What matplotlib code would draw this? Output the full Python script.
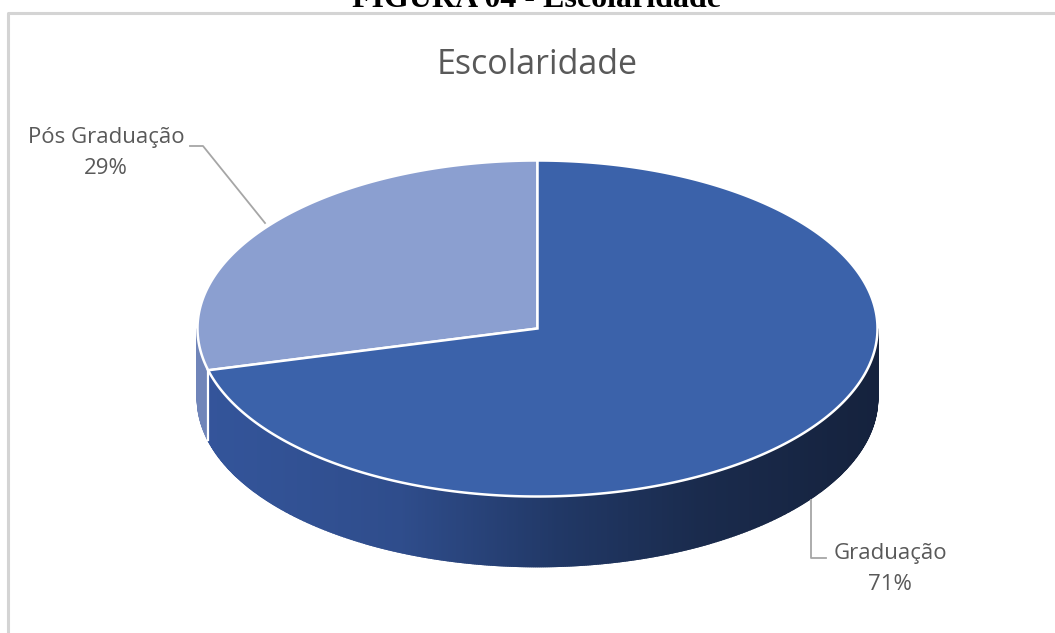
import numpy as np
import matplotlib.pyplot as plt
from matplotlib.patches import Polygon
from matplotlib.colors import to_rgb

categorias = ['Pós Graduação', 'Graduação']
percentuais = [29, 71]
cores_topo = ['#8b9fd0', '#3b62aa']

W, H = 1055, 633
fig = plt.figure(figsize=(W / 100, H / 100), dpi=100)
ax = fig.add_axes([0, 0, 1, 1])
ax.set_xlim(0, W)
ax.set_ylim(H, 0)
ax.axis('off')

# moldura cinza (parcialmente visível)
ax.plot([8, 8, W], [H, 13, 13], color='#d4d4d4', lw=2.2, solid_capstyle='butt')

# título da figura, cortado no topo
ax.text(537, 7, 'FIGURA 04 - Escolaridade', ha='center', va='baseline',
        fontsize=23, fontweight='bold', family='Liberation Serif', color='black')

ax.text(537, 65, 'Escolaridade', ha='center', va='center', fontsize=24.5,
        family='Open Sans', color='#595959')

cx, cy, rx, ry, prof = 537.5, 328.5, 340, 168, 70


def pt(ang, dy=0):
    a = np.radians(ang)
    return cx + rx * np.cos(a), cy - ry * np.sin(a) + dy


# ângulos das fatias: Pós Graduação começa às 12h e segue anti-horário
total = sum(percentuais)
ini = 90.0
angulos = []
for v in percentuais:
    fim = ini + 360.0 * v / total
    angulos.append((ini, fim))
    ini = fim

# lateral (somente a metade frontal, 180..360), sombreada na horizontal
c_pos_lat = np.array(to_rgb('#7085b9'))
paleta_x = [cx - rx, 400, 560, 700, cx + rx]
paleta_c = [to_rgb(c) for c in ['#34559b', '#2f4d8c', '#213866', '#1a2b4d', '#15223d']]
a1 = angulos[0][1]
passos = np.linspace(180, 360, 541)
for i in range(len(passos) - 1):
    t0, t1 = passos[i], passos[i + 1]
    xa, ya = pt(t0)
    xb, yb = pt(t1)
    mid = (t0 + t1) / 2
    if mid < a1:
        cor = c_pos_lat
    else:
        xm = (xa + xb) / 2
        cor = tuple(np.interp(xm, paleta_x, [c[k] for c in paleta_c]) for k in range(3))
    ax.add_patch(Polygon([(xa, ya), (xb, yb), (xb, yb + prof), (xa, ya + prof)],
                         closed=True, facecolor=cor, edgecolor=cor, lw=1.2))

# aresta branca entre as laterais
xs, ys = pt(a1)
ax.plot([xs, xs], [ys, ys + prof], color='white', lw=1.6)

# topo
for (t0, t1), cor in zip(angulos, cores_topo):
    th = np.linspace(t0, t1, 300)
    xx = cx + rx * np.cos(np.radians(th))
    yy = cy - ry * np.sin(np.radians(th))
    verts = [(cx, cy)] + list(zip(xx, yy))
    ax.add_patch(Polygon(verts, closed=True, facecolor=cor, edgecolor='white',
                         lw=1.8, joinstyle='miter'))

# rótulos com linhas de chamada
ax.plot([265, 203, 190], [223, 146, 146], color='#a6a6a6', lw=1.3)
ax.text(106, 153, f'{categorias[0]}\n{percentuais[0]}%', ha='center', va='center',
        fontsize=16, family='Open Sans', color='#595959', linespacing=1.6)

ax.plot([811, 811, 826], [500, 558, 558], color='#a6a6a6', lw=1.3)
ax.text(890, 569, f'{categorias[1]}\n{percentuais[1]}%', ha='center', va='center',
        fontsize=16, family='Open Sans', color='#595959', linespacing=1.6)

fig.savefig('out.png', dpi=100)
